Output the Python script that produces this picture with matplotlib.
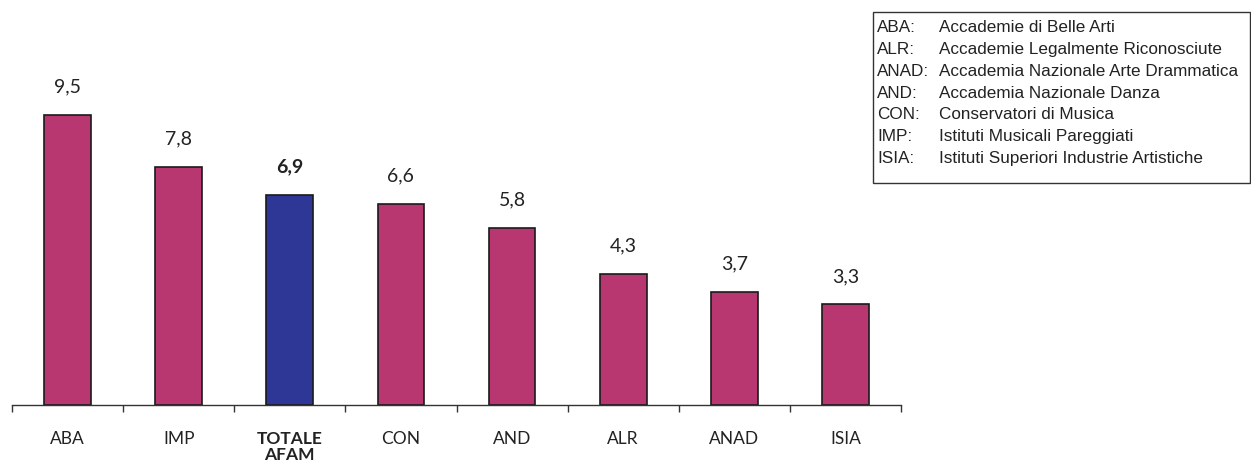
import numpy as np
import matplotlib.pyplot as plt
from matplotlib.patches import Rectangle

# data
categories = ['ABA', 'IMP', 'TOTALE\nAFAM', 'CON', 'AND', 'ALR', 'ANAD', 'ISIA']
values = [9.5, 7.8, 6.9, 6.6, 5.8, 4.3, 3.7, 3.3]
value_labels = ['9,5', '7,8', '6,9', '6,6', '5,8', '4,3', '3,7', '3,3']
highlight = 'TOTALE\nAFAM'

legend_abbr = ['ABA:', 'ALR:', 'ANAD:', 'AND:', 'CON:', 'IMP:', 'ISIA:']
legend_desc = ['Accademie di Belle Arti', 'Accademie Legalmente Riconosciute',
               'Accademia Nazionale Arte Drammatica', 'Accademia Nazionale Danza',
               'Conservatori di Musica', 'Istituti Musicali Pareggiati',
               'Istituti Superiori Industrie Artistiche']

W, H = 1251, 462
fig = plt.figure(figsize=(W / 100, H / 100), dpi=100)
ax = fig.add_axes([12 / W, (H - 405) / H, (901 - 12) / W, (405 - 20) / H])

x = np.arange(len(categories))
colors = ['#2E3796' if c == highlight else '#B83770' for c in categories]
ax.bar(x, values, width=0.42, color=colors, edgecolor='#1a1a1a', linewidth=1.2, zorder=2)

for xi, v, lab, c in zip(x, values, value_labels, categories):
    bold = c == highlight
    ax.annotate(lab, (xi, v), xytext=(0, 14), textcoords='offset points',
                ha='center', va='bottom', fontsize=14, family='Lato',
                fontweight='bold' if bold else 'normal', color='#222222')

ax.set_xlim(-0.5, len(categories) - 0.5)
ax.set_ylim(0, 385 / 30.5)
ax.set_xticks(x)
ax.set_xticklabels(categories, fontsize=12.5, family='Lato', color='#222222',
                   linespacing=1.0, va='top')
for t, c in zip(ax.get_xticklabels(), categories):
    if c == highlight:
        t.set_fontweight('bold')
ax.tick_params(axis='x', which='major', length=0, pad=19)
ax.set_xticks(np.arange(-0.5, len(categories)), minor=True)
ax.tick_params(axis='x', which='minor', length=5, width=1, color='#333333', direction='out')
ax.set_yticks([])
for s in ['top', 'right', 'left']:
    ax.spines[s].set_visible(False)
ax.spines['bottom'].set_color('#333333')
ax.spines['bottom'].set_linewidth(1)

# legend box
fig.patches.append(Rectangle((873 / W, 1 - 183 / H), (1250 - 873) / W, (183 - 12) / H,
                             transform=fig.transFigure, facecolor='white',
                             edgecolor='#333333', linewidth=1))
for i, (a, d) in enumerate(zip(legend_abbr, legend_desc)):
    y = 1 - (28 + i * 21.7) / H
    fig.text(877 / W, y, a, fontsize=12.3, family='Liberation Sans', va='center', color='#222222')
    fig.text(939 / W, y, d, fontsize=12.3, family='Liberation Sans', va='center', color='#222222')

fig.savefig('out.png', dpi=100)
